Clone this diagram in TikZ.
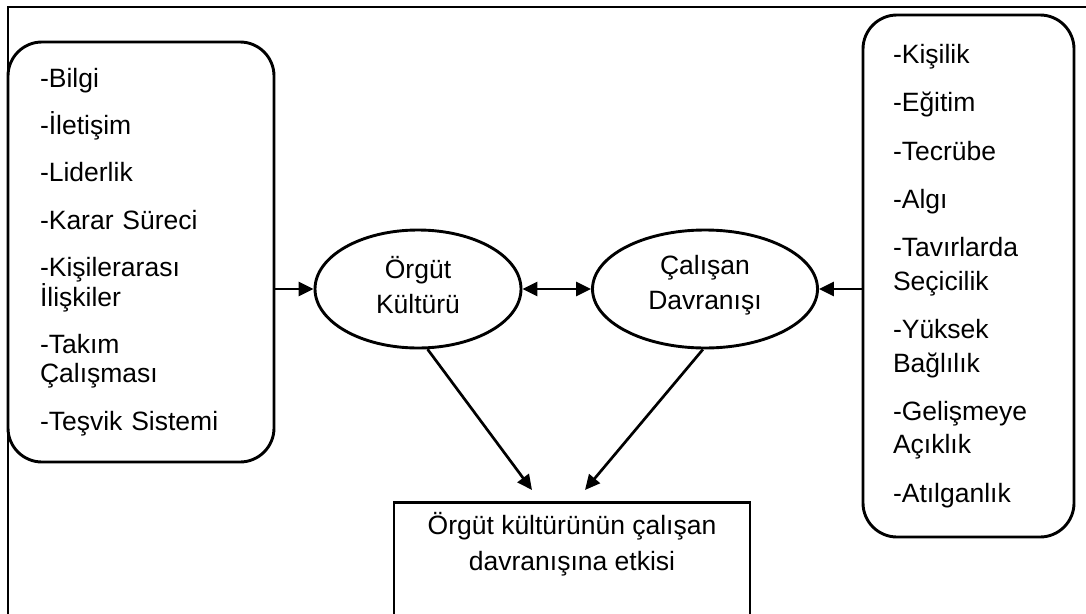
\documentclass[tikz,border=0pt]{standalone}
\usepackage{fontspec}
\setmainfont{Liberation Sans}
\usetikzlibrary{shapes.geometric,arrows.meta}
\begin{document}
\begin{tikzpicture}[x=1pt,y=-1pt,
  line width=2.7pt,
  tip/.style={-{Triangle[length=15pt,width=14pt]}},
  twotips/.style={{Triangle[length=15pt,width=14pt]}-{Triangle[length=15pt,width=14pt]}},
  listbox/.style={draw, rounded corners=34pt, align=left, inner sep=0pt, line width=2.9pt},
  oval/.style={draw, ellipse, minimum width=206pt, minimum height=118pt, inner sep=0pt,
    line width=2.9pt},
  ovaltext/.style={inner sep=0pt, align=center, font=\fontsize{26.5}{35}\selectfont},
  resultbox/.style={draw, rectangle, minimum width=356pt, minimum height=160pt,
    inner sep=0pt, anchor=north, line width=2.9pt},
  plaintext/.style={inner sep=0pt, align=center, font=\fontsize{26.5}{36}\selectfont},
]
\useasboundingbox (0,0) rectangle (1086,613);
\clip (0,0) rectangle (1086,613);

% outer frame
\draw[line width=2.4pt] (1100,7) -- (8,7) -- (8,640);

% factor lists
\node[listbox, minimum width=266pt, minimum height=420pt, text width=202pt,
      font=\fontsize{26.5}{29.5}\selectfont] (lbox) at (141,252)
  {-Bilgi\\[17.8pt]-İletişim\\[17.8pt]-Liderlik\\[17.8pt]-Karar Süreci\\[17.8pt]%
   -Kişilerarası\\İlişkiler\\[17.8pt]-Takım\\Çalışması\\[17.8pt]-Teşvik Sistemi};

\node[listbox, minimum width=211pt, minimum height=522pt, text width=151pt,
      font=\fontsize{26.5}{33.5}\selectfont] (rbox) at (968.5,276)
  {-Kişilik\\[14.8pt]-Eğitim\\[14.8pt]-Tecrübe\\[14.8pt]-Algı\\[14.8pt]%
   -Tavırlarda\\Seçicilik\\[14.8pt]-Yüksek\\Bağlılık\\[14.8pt]%
   -Gelişmeye\\Açıklık\\[14.8pt]-Atılganlık};

% central concepts
\node[oval] (org) at (418,289) {};
\node[ovaltext, yshift=4pt] (orgtext) at (org.center) {Örgüt\\Kültürü};
\node[oval, minimum width=225pt] (cal) at (705,289) {};
\node[ovaltext, yshift=4pt] (caltext) at (cal.center) {Çalışan\\Davranışı};

% result
\node[resultbox] (res) at (572,501) {};
\node[plaintext, anchor=north, yshift=-10pt] (restext) at (res.north)
  {Örgüt kültürünün çalışan\\davranışına etkisi};

% connectors
\coordinate (t1) at (532,490);
\coordinate (t2) at (585,490);
\draw[tip] (lbox.east |- org.west) -- (org.west);
\draw[twotips] (org.east) -- (cal.west);
\draw[tip] (rbox.west |- cal.east) -- (cal.east);
\draw[tip] (org.-81) -- (t1);
\draw[tip] (cal.-92) -- (t2);
\end{tikzpicture}
\end{document}
